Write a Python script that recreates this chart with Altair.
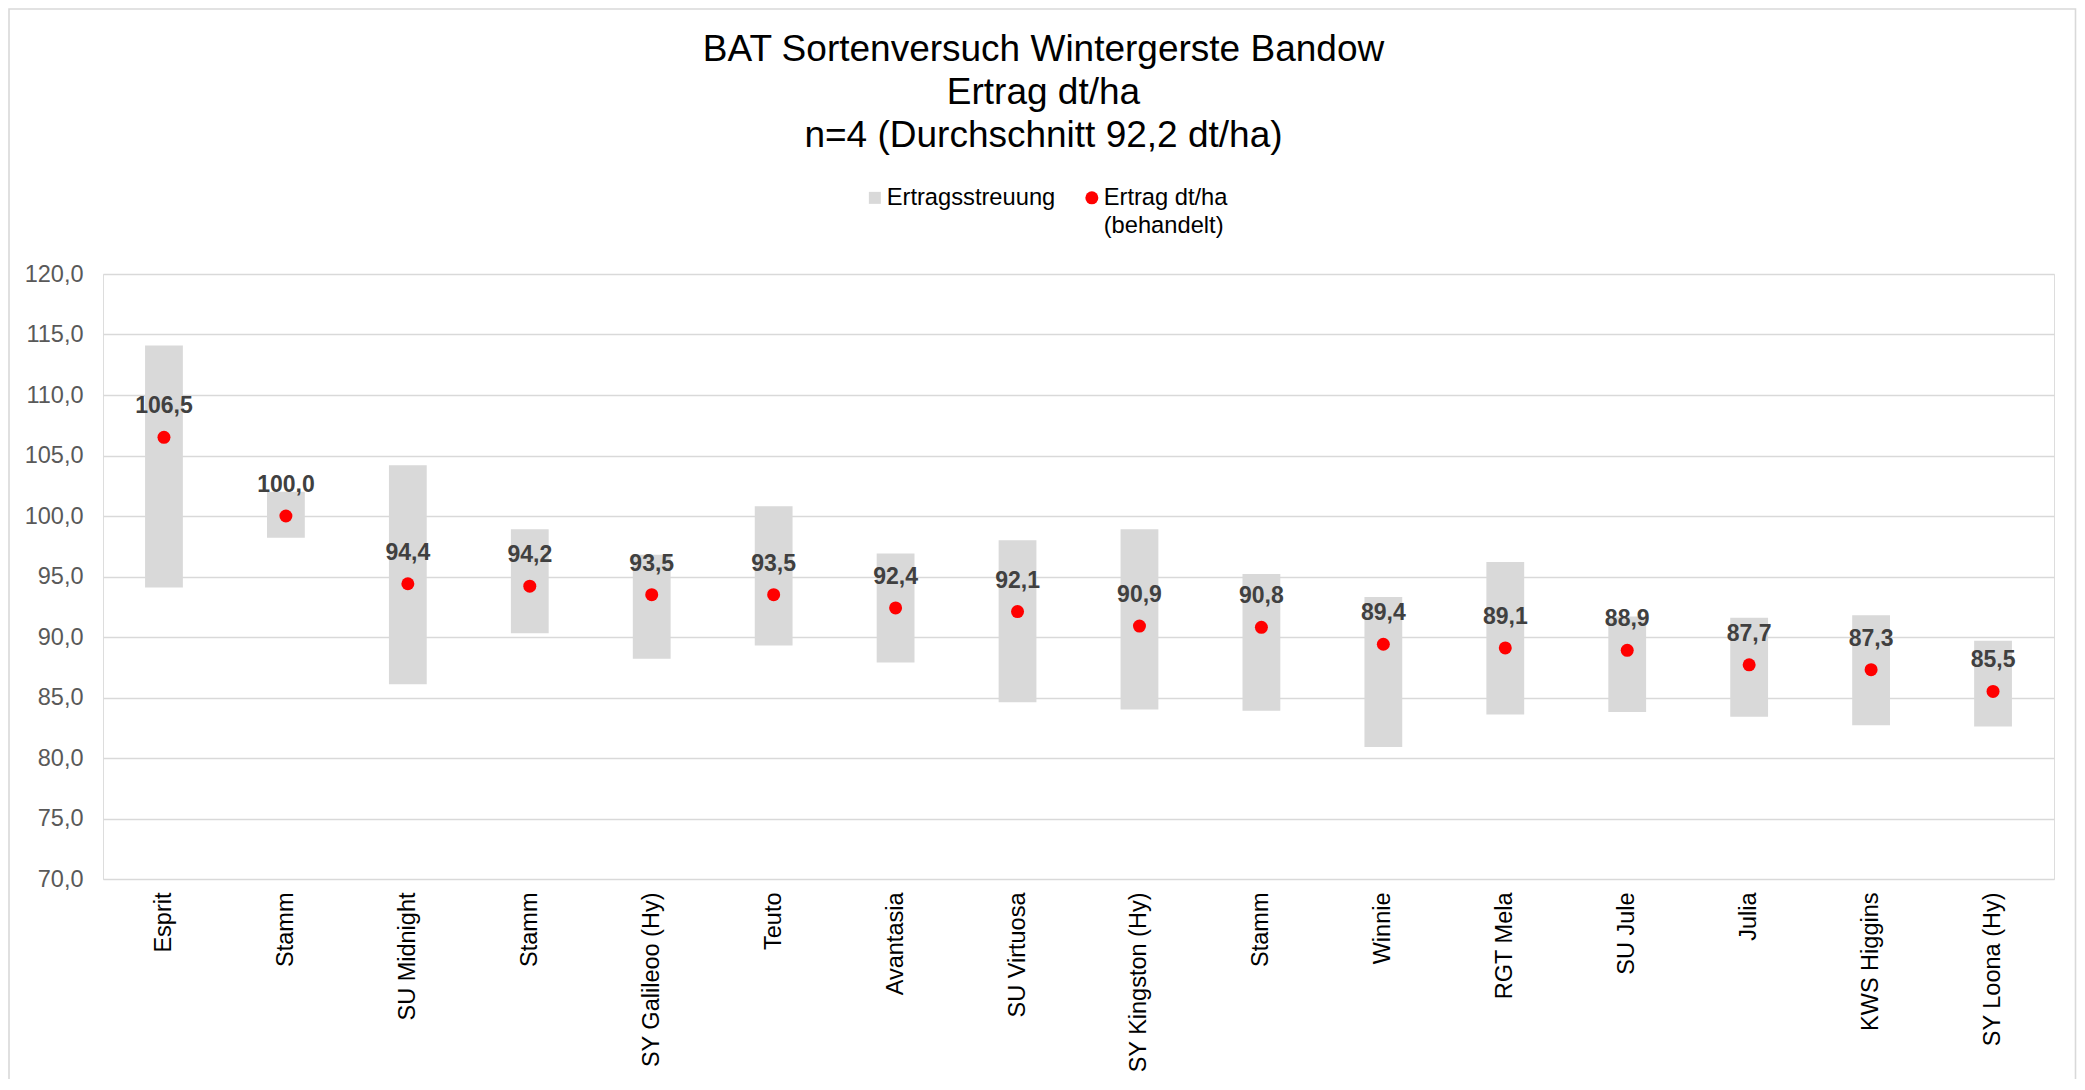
import altair as alt
import pandas as pd

names = ["Esprit", "Stamm", "SU Midnight", "Stamm", "SY Galileoo (Hy)", "Teuto",
         "Avantasia", "SU Virtuosa", "SY Kingston (Hy)", "Stamm", "Winnie",
         "RGT Mela", "SU Jule", "Julia", "KWS Higgins", "SY Loona (Hy)"]
ertrag = [106.5, 100.0, 94.4, 94.2, 93.5, 93.5, 92.4, 92.1, 90.9, 90.8, 89.4,
          89.1, 88.9, 87.7, 87.3, 85.5]
streu_min = [94.1, 98.2, 86.1, 90.3, 88.2, 89.3, 87.9, 84.6, 84.0, 83.9, 80.9,
             83.6, 83.8, 83.4, 82.7, 82.6]
streu_max = [114.1, 102.0, 104.2, 98.9, 96.8, 100.8, 96.9, 98.0, 98.9, 95.2, 93.3,
             96.2, 91.7, 91.6, 91.8, 89.7]
y_ticks = [70, 75, 80, 85, 90, 95, 100, 105, 110, 115, 120]
title_lines = ["BAT Sortenversuch Wintergerste Bandow", "Ertrag dt/ha",
               "n=4 (Durchschnitt 92,2 dt/ha)"]

df = pd.DataFrame({
    "idx": list(range(len(names))),
    "name": names,
    "ertrag": ertrag,
    "lo": streu_min,
    "hi": streu_max,
    "s1": ["Ertragsstreuung"] * len(names),
    "s2": ["Ertrag dt/ha (behandelt)"] * len(names),
})

FONT = "Liberation Sans"
label_arr = "[" + ",".join("'" + n + "'" for n in names) + "]"

x_enc = alt.X(
    "idx:O",
    scale=alt.Scale(paddingInner=0.69, paddingOuter=0.345),
    axis=alt.Axis(
        title=None, labelAngle=270, labelFontSize=23.5, labelColor="#000000",
        labelFont=FONT, domain=False, ticks=False, labelPadding=13,
        labelLimit=400, labelExpr=label_arr + "[datum.value]", grid=False,
    ),
)
y_scale = alt.Scale(domain=[70, 120], nice=False, zero=False)

base = alt.Chart(df)

# chart-area frame (decoration, like the spreadsheet chart border)
frame = alt.Chart(pd.DataFrame({"f": [0]})).mark_rect(
    fill=None, stroke="#d9d9d9", strokeWidth=1.6
).encode(
    x=alt.value(-94), x2=alt.value(1972.5),
    y=alt.value(-265), y2=alt.value(830),
)

bars = base.mark_bar(opacity=1).encode(
    x=x_enc,
    y=alt.Y(
        "lo:Q", scale=y_scale,
        axis=alt.Axis(
            title=None, values=y_ticks, labelFontSize=23.5, labelColor="#595959",
            labelFont=FONT, domain=False, ticks=False, labelPadding=20,
            gridColor="#d9d9d9", gridWidth=1.3,
            labelExpr="replace(format(datum.value, '.1f'), '.', ',')",
        ),
    ),
    y2="hi:Q",
    fill=alt.Fill(
        "s1:N",
        scale=alt.Scale(domain=["Ertragsstreuung"], range=["#d9d9d9"]),
        legend=alt.Legend(
            title=None, orient="none", legendX=760, legendY=-88, padding=0,
            symbolType="square", symbolSize=144, symbolStrokeWidth=0,
            labelFontSize=23.7, labelFont=FONT, labelColor="#000000",
            labelLimit=400, labelOffset=0,
        ),
    ),
)

points = base.mark_circle(size=169, opacity=1).encode(
    x=x_enc,
    y=alt.Y("ertrag:Q", scale=y_scale),
    color=alt.Color(
        "s2:N",
        scale=alt.Scale(domain=["Ertrag dt/ha (behandelt)"], range=["#ff0000"]),
        legend=alt.Legend(
            title=None, orient="none", legendX=977, legendY=-88, padding=0,
            symbolType="circle", symbolSize=169, symbolStrokeWidth=0,
            labelFontSize=23.7, labelFont=FONT, labelColor="#000000",
            labelLimit=400, labelOffset=0,
            labelExpr="['Ertrag dt/ha', '(behandelt)']",
        ),
    ),
)

labels = base.mark_text(
    font=FONT, fontSize=23, fontWeight="bold", color="#404040",
    baseline="alphabetic", align="center", dy=-24,
).encode(
    x=x_enc,
    y=alt.Y("ertrag:Q", scale=y_scale),
    text=alt.Text("lbl:N"),
).transform_calculate(
    lbl="replace(format(datum.ertrag, '.1f'), '.', ',')"
)

chart = alt.layer(frame, bars, points, labels).resolve_scale(
    fill="independent", color="independent"
).properties(
    width=1951,
    height=605,
    title=alt.TitleParams(
        text=title_lines, fontSize=37, font=FONT, fontWeight="normal",
        color="#000000", anchor="middle", frame="group", offset=-147,
        dx=-35, lineHeight=43,
    ),
    autosize=alt.AutoSizeParams(type="none"),
    padding={"left": 95, "top": 266, "right": 23, "bottom": 200},
).configure_view(stroke=None).configure(
    background="white",
    style={"guide-label": {"lineHeight": 28}},
)

chart.save("out.html", embed_options={"renderer": "svg", "actions": False})
